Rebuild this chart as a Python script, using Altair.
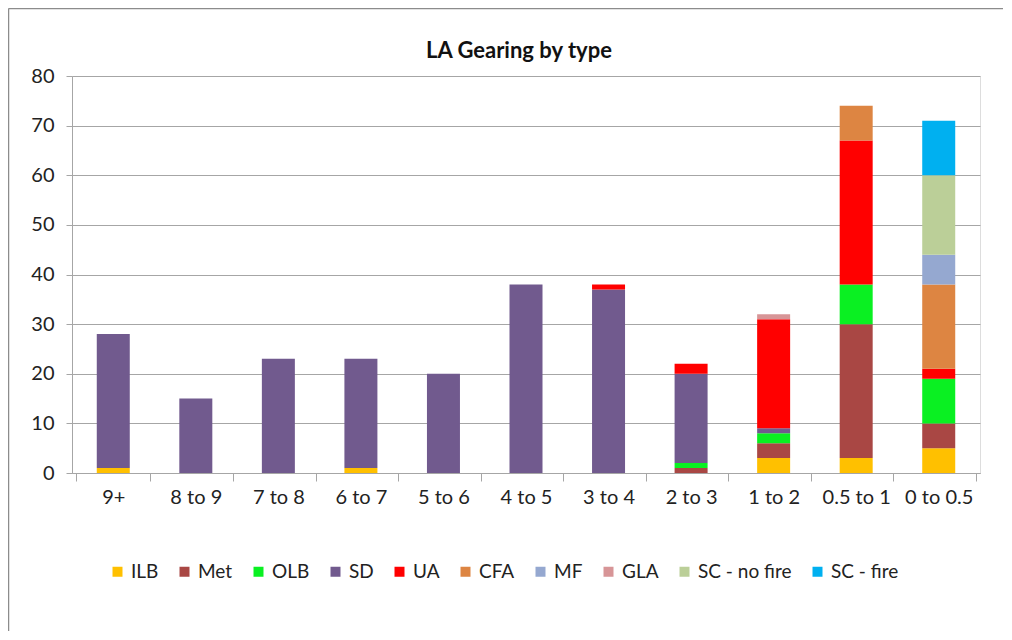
import altair as alt
import pandas as pd

categories = ["9+", "8 to 9", "7 to 8", "6 to 7", "5 to 6", "4 to 5",
              "3 to 4", "2 to 3", "1 to 2", "0.5 to 1", "0 to 0.5"]
series = ["ILB", "Met", "OLB", "SD", "UA", "CFA", "MF", "GLA",
          "SC - no fire", "SC - fire"]
colors = ["#FFC000", "#A94744", "#0AF022", "#715A8E", "#FF0000",
          "#DD8542", "#95A8D0", "#D79597", "#BBCF98", "#00B0F0"]
title_text = "LA Gearing by type"

ilb       = [1, 0, 0, 1, 0, 0, 0, 0, 3, 3, 5]
met       = [0, 0, 0, 0, 0, 0, 0, 1, 3, 27, 5]
olb       = [0, 0, 0, 0, 0, 0, 0, 1, 2, 8, 9]
sd        = [27, 15, 23, 22, 20, 38, 37, 18, 1, 0, 0]
ua        = [0, 0, 0, 0, 0, 0, 1, 2, 22, 29, 2]
cfa       = [0, 0, 0, 0, 0, 0, 0, 0, 0, 7, 17]
mf        = [0, 0, 0, 0, 0, 0, 0, 0, 0, 0, 6]
gla       = [0, 0, 0, 0, 0, 0, 0, 0, 1, 0, 0]
sc_nofire = [0, 0, 0, 0, 0, 0, 0, 0, 0, 0, 16]
sc_fire   = [0, 0, 0, 0, 0, 0, 0, 0, 0, 0, 11]

values = [ilb, met, olb, sd, ua, cfa, mf, gla, sc_nofire, sc_fire]

rows = []
for si, (name, vals) in enumerate(zip(series, values)):
    for cat, v in zip(categories, vals):
        if v > 0:
            rows.append({"category": cat, "series": name, "value": v, "idx": si})
df = pd.DataFrame(rows)

W, H = 908, 397
PL, PT, PR, PB = 64, 68, 24, 159
FONT = "Lato"
GRID = "#a6a6a6"

bars = alt.Chart(df).mark_bar(size=33).encode(
    x=alt.X("category:N", sort=categories, title=None,
            scale=alt.Scale(domain=categories),
            axis=alt.Axis(labelAngle=0, tickBand="extent", grid=False,
                          domainColor=GRID, tickColor=GRID, tickSize=8,
                          labelFontSize=20, labelColor="#222222",
                          labelPadding=6, labelFont=FONT)),
    y=alt.Y("value:Q", stack="zero", title=None,
            scale=alt.Scale(domain=[0, 80], nice=False),
            axis=alt.Axis(values=list(range(0, 90, 10)), grid=True,
                          gridColor=GRID, gridWidth=1.2,
                          domainColor=GRID, tickColor=GRID, tickSize=6,
                          labelFontSize=20, labelColor="#222222",
                          labelPadding=12, labelFont=FONT)),
    color=alt.Color("series:N", sort=series,
                    scale=alt.Scale(domain=series, range=colors),
                    legend=alt.Legend(title=None, orient="none",
                                      legendX=36, legendY=486,
                                      direction="horizontal", columns=10,
                                      symbolType="square", symbolSize=100,
                                      symbolStrokeWidth=0,
                                      labelFontSize=19, labelFont=FONT,
                                      labelColor="#222222",
                                      columnPadding=16, labelOffset=4)),
    order=alt.Order("idx:Q"),
)

frame = pd.DataFrame({"a": [0]})
border_top = alt.Chart(frame).mark_rule(color="#8c8c8c", strokeWidth=1.5).encode(
    x=alt.value(-PL + 0.5), x2=alt.value(W + PR - 1), y=alt.value(-PT + 0.5),
)
border_left = alt.Chart(frame).mark_rule(color="#8c8c8c", strokeWidth=1.5).encode(
    x=alt.value(-PL + 0.5), y=alt.value(-PT + 0.5), y2=alt.value(H + PB - 1),
)
title = alt.Chart(frame).mark_text(
    text=title_text, fontSize=22, font=FONT, fontWeight="bold",
    color="#111111", align="center", baseline="alphabetic",
).encode(x=alt.value(W / 2 - 7), y=alt.value(-18))

chart = alt.layer(border_top, border_left, title, bars).properties(
    width=W, height=H,
    autosize=alt.AutoSizeParams(type="none"),
    padding={"left": PL, "top": PT, "right": PR, "bottom": PB},
).configure_view(stroke=None).configure(font=FONT)

chart.save("out.html", embed_options={"renderer": "svg", "actions": False})
